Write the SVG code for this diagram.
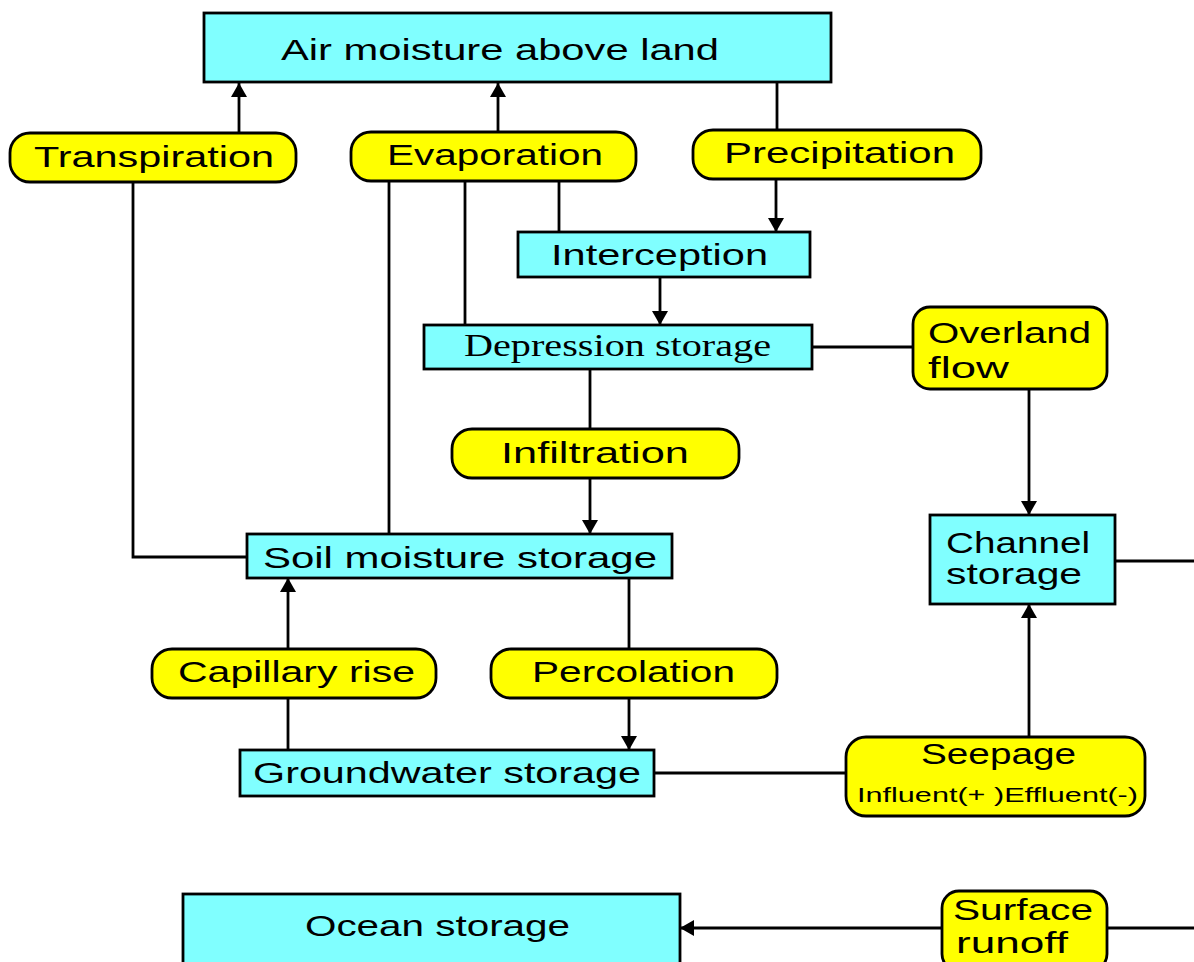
<svg xmlns="http://www.w3.org/2000/svg" width="1194" height="962" viewBox="0 0 1194 962">
<style>
.box{fill:#80ffff;stroke:#000;stroke-width:2.8}
.pill{fill:#ffff00;stroke:#000;stroke-width:2.8}
.t{font-family:"Liberation Sans",Arial,sans-serif;font-size:30px;fill:#000}
.s{font-family:"Liberation Serif","Times New Roman",serif;font-size:32px;fill:#000}
.sm{font-family:"Liberation Sans",Arial,sans-serif;font-size:20px;fill:#000}
.c{fill:none;stroke:#000;stroke-width:2.8}
.a{marker-end:url(#arr)}
</style>
<defs>
<marker id="arr" markerUnits="userSpaceOnUse" viewBox="0 0 14 16" markerWidth="14" markerHeight="16" refX="14" refY="8" orient="auto">
<path d="M0,0 L14,8 L0,16 z" fill="#000"/>
</marker>
</defs>
<rect width="1194" height="962" fill="#fff"/>
<g id="connectors">
<line class="c a" x1="239" y1="133" x2="239" y2="83"/>
<line class="c a" x1="498" y1="132" x2="498" y2="83"/>
<line class="c" x1="777" y1="82" x2="777" y2="130"/>
<line class="c a" x1="776" y1="179" x2="776" y2="232"/>
<line class="c" x1="559" y1="232" x2="559" y2="181"/>
<line class="c" x1="465" y1="325" x2="465" y2="181"/>
<line class="c" x1="389" y1="534" x2="389" y2="181"/>
<line class="c a" x1="660" y1="277" x2="660" y2="325"/>
<line class="c" x1="812" y1="347" x2="913" y2="347"/>
<line class="c a" x1="1029" y1="389" x2="1029" y2="515"/>
<line class="c" x1="1115" y1="561" x2="1194" y2="561"/>
<line class="c" x1="590" y1="369" x2="590" y2="429"/>
<line class="c a" x1="590" y1="478" x2="590" y2="534"/>
<polyline class="c" points="247,557 133,557 133,182"/>
<line class="c a" x1="288" y1="649" x2="288" y2="578"/>
<line class="c" x1="288" y1="750" x2="288" y2="698"/>
<line class="c" x1="629" y1="578" x2="629" y2="649"/>
<line class="c a" x1="629" y1="698" x2="629" y2="750"/>
<line class="c" x1="654" y1="773" x2="846" y2="773"/>
<line class="c a" x1="1029" y1="737" x2="1029" y2="604"/>
<line class="c a" x1="942" y1="928" x2="680" y2="928"/>
<line class="c" x1="1194" y1="928" x2="1107" y2="928"/>
</g>
<g id="air">
<rect class="box" x="204" y="13" width="627" height="69"/>
<text class="t" x="281" y="60" textLength="438" lengthAdjust="spacingAndGlyphs">Air moisture above land</text>
</g>
<g id="transpiration">
<rect class="pill" x="10" y="133" width="286" height="49" rx="20"/>
<text class="t" x="34" y="167" textLength="240" lengthAdjust="spacingAndGlyphs">Transpiration</text>
</g>
<g id="evaporation">
<rect class="pill" x="351" y="132" width="285" height="49" rx="20"/>
<text class="t" x="387" y="165" textLength="216" lengthAdjust="spacingAndGlyphs">Evaporation</text>
</g>
<g id="precipitation">
<rect class="pill" x="693" y="130" width="288" height="49" rx="20"/>
<text class="t" x="724" y="163" textLength="231" lengthAdjust="spacingAndGlyphs">Precipitation</text>
</g>
<g id="interception">
<rect class="box" x="518" y="232" width="292" height="45"/>
<text class="t" x="551" y="265" textLength="217" lengthAdjust="spacingAndGlyphs">Interception</text>
</g>
<g id="depression">
<rect class="box" x="424" y="325" width="388" height="44"/>
<text class="s" x="464" y="356" textLength="307" lengthAdjust="spacingAndGlyphs">Depression storage</text>
</g>
<g id="overland">
<rect class="pill" x="913" y="307" width="194" height="82" rx="17"/>
<text class="t" x="928" y="343" textLength="163" lengthAdjust="spacingAndGlyphs">Overland</text>
<text class="t" x="928" y="378" textLength="81" lengthAdjust="spacingAndGlyphs">flow</text>
</g>
<g id="infiltration">
<rect class="pill" x="452" y="429" width="287" height="49" rx="20"/>
<text class="t" x="501" y="463" textLength="188" lengthAdjust="spacingAndGlyphs">Infiltration</text>
</g>
<g id="channel">
<rect class="box" x="930" y="515" width="185" height="89"/>
<text class="t" x="946" y="553" textLength="144" lengthAdjust="spacingAndGlyphs">Channel</text>
<text class="t" x="946" y="584" textLength="136" lengthAdjust="spacingAndGlyphs">storage</text>
</g>
<g id="soil">
<rect class="box" x="247" y="534" width="425" height="44"/>
<text class="t" x="263" y="568" textLength="394" lengthAdjust="spacingAndGlyphs">Soil moisture storage</text>
</g>
<g id="capillary">
<rect class="pill" x="152" y="649" width="284" height="49" rx="20"/>
<text class="t" x="178" y="682" textLength="237" lengthAdjust="spacingAndGlyphs">Capillary rise</text>
</g>
<g id="percolation">
<rect class="pill" x="491" y="649" width="286" height="49" rx="20"/>
<text class="t" x="532" y="682" textLength="203" lengthAdjust="spacingAndGlyphs">Percolation</text>
</g>
<g id="groundwater">
<rect class="box" x="240" y="750" width="414" height="46"/>
<text class="t" x="253" y="783" textLength="388" lengthAdjust="spacingAndGlyphs">Groundwater storage</text>
</g>
<g id="seepage">
<rect class="pill" x="846" y="737" width="299" height="79" rx="20"/>
<text class="t" x="921" y="764" textLength="155" lengthAdjust="spacingAndGlyphs">Seepage</text>
<text class="sm" x="857" y="802" textLength="281" lengthAdjust="spacingAndGlyphs">Influent(+ )Effluent(-)</text>
</g>
<g id="ocean">
<rect class="box" x="183" y="894" width="497" height="80"/>
<text class="t" x="305" y="936" textLength="265" lengthAdjust="spacingAndGlyphs">Ocean storage</text>
</g>
<g id="surface">
<rect class="pill" x="942" y="891" width="165" height="80" rx="17"/>
<text class="t" x="953" y="920" textLength="140" lengthAdjust="spacingAndGlyphs">Surface</text>
<text class="t" x="956" y="953" textLength="112" lengthAdjust="spacingAndGlyphs">runoff</text>
</g>
</svg>
